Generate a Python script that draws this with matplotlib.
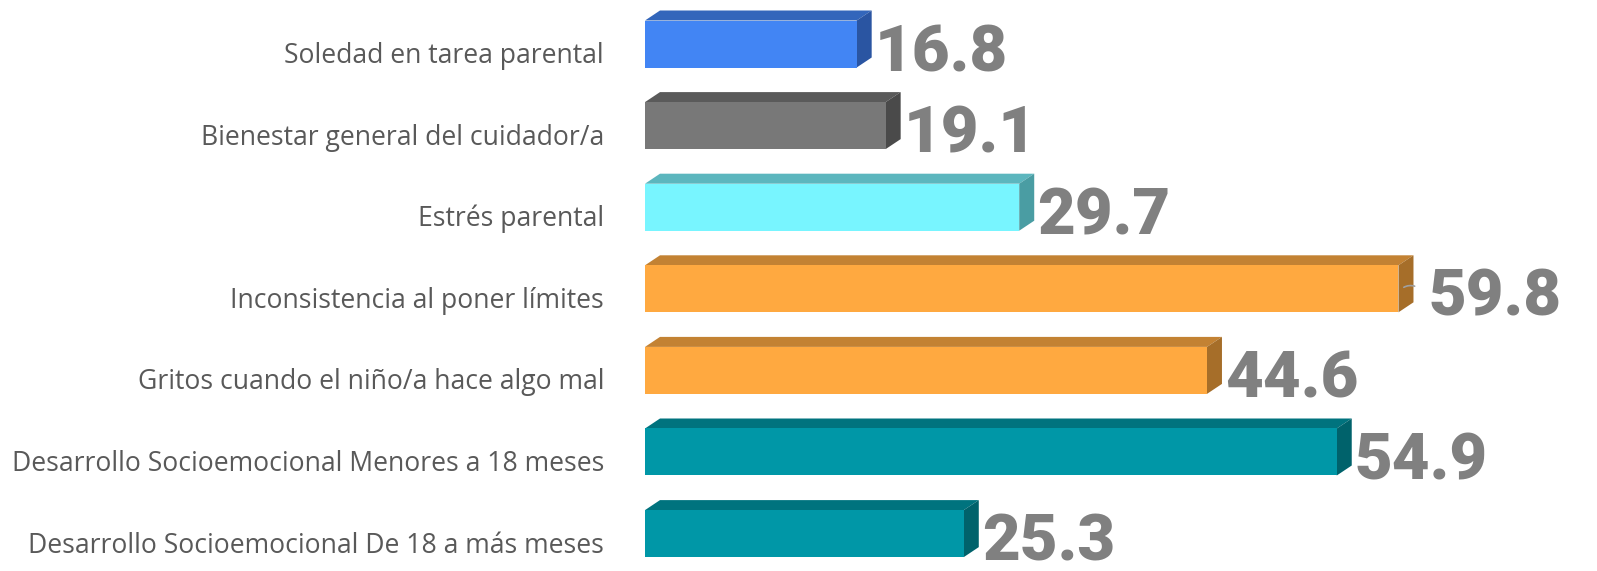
import matplotlib
matplotlib.use("Agg")
import matplotlib.pyplot as plt
from matplotlib.patches import Polygon

categories = [
    "Soledad en tarea parental",
    "Bienestar general del cuidador/a",
    "Estrés parental",
    "Inconsistencia al poner límites",
    "Gritos cuando el niño/a hace algo mal",
    "Desarrollo Socioemocional Menores a 18 meses",
    "Desarrollo Socioemocional De 18 a más meses",
]
values = [16.8, 19.1, 29.7, 59.8, 44.6, 54.9, 25.3]
front_colors = ["#4285F4", "#787878", "#78F5FF", "#FFA940", "#FFA940", "#0097A7", "#0097A7"]
top_colors = ["#3366BB", "#5A5A5A", "#5CB6BE", "#C38233", "#C38233", "#00737E", "#00737E"]
side_colors = ["#2A55A2", "#4A4A4A", "#4A9DA3", "#A66E29", "#A66E29", "#00626B", "#00626B"]

W, H, DPI = 1597, 571, 100
fig = plt.figure(figsize=(W / DPI, H / DPI), dpi=DPI)
x0_px = 645
px_per_unit = 12.6
spacing_px = 81.6
first_center_px = 44
ax = fig.add_axes([x0_px / W, 0, 1 - x0_px / W, 1])
ax.set_xlim(0, (W - x0_px) / px_per_unit)
ax.set_ylim((H - first_center_px) / spacing_px, -first_center_px / spacing_px)
ax.axis("off")

bar_h = 47 / spacing_px
dx = 15 / px_per_unit
dy = 10 / spacing_px

ys = list(range(len(categories)))
ax.barh(ys, values, height=bar_h, color=front_colors, edgecolor="none", zorder=3)
for y, v, tc, sc in zip(ys, values, top_colors, side_colors):
    top = y - bar_h / 2
    bot = y + bar_h / 2
    ax.add_patch(Polygon([(0, top), (dx, top - dy), (v + dx, top - dy), (v, top)],
                         closed=True, facecolor=tc, edgecolor="none", zorder=2))
    ax.add_patch(Polygon([(v, top), (v + dx, top - dy), (v + dx, bot - dy), (v, bot)],
                         closed=True, facecolor=sc, edgecolor="none", zorder=2))

for y, v in zip(ys, values):
    extra = 30 if v == max(values) else 18
    ax.annotate(f"{v:.1f}", xy=(v, y), xytext=(extra, -27), textcoords="offset pixels",
                ha="left", va="baseline", fontsize=47, fontweight="heavy",
                family=["Roboto", "DejaVu Sans"], color="#808080", zorder=4,
                annotation_clip=False)
    if v == max(values):
        ax.annotate("", xy=(v + dx * 0.2, y), xytext=(v + dx + 0.3, y - 0.02),
                    arrowprops=dict(arrowstyle="-", color="#A0A0A0", lw=1.2,
                                    connectionstyle="arc3,rad=0.3"))

for y, c in zip(ys, categories):
    fig.text(604 / W, 1 - (first_center_px + spacing_px * y + 12) / H, c,
             ha="right", va="center", fontsize=19.1, family=["Open Sans", "DejaVu Sans"],
             color="#595959")

fig.savefig("out.png", dpi=DPI)
